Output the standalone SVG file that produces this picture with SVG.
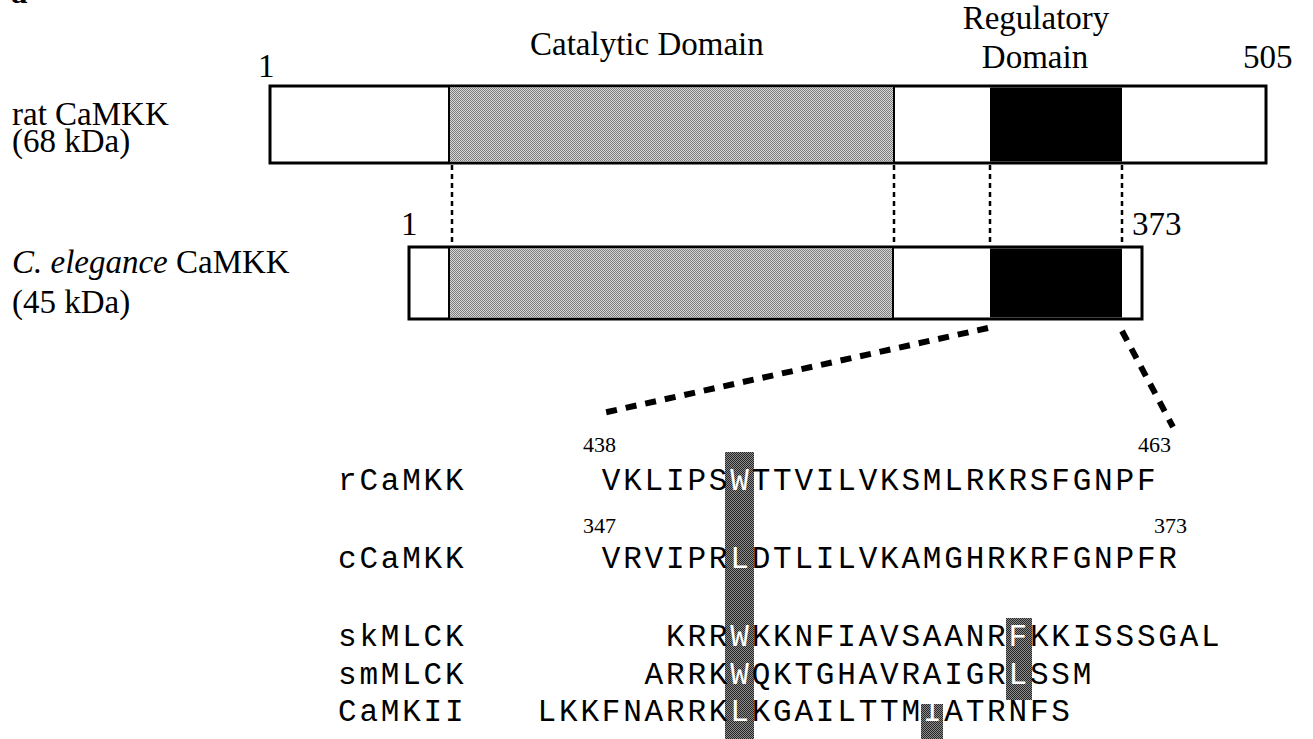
<svg xmlns="http://www.w3.org/2000/svg" width="1313" height="739" viewBox="0 0 1313 739">
  <defs>
    <!-- halftone fills -->
    <pattern id="ht-light" width="2" height="2" patternUnits="userSpaceOnUse">
      <rect width="2" height="2" fill="#d6d6d6"/>
      <rect width="1" height="1" fill="#7e7e7e"/>
      <rect x="1" y="1" width="1" height="1" fill="#7e7e7e"/>
    </pattern>
    <pattern id="ht-dark" width="2" height="2" patternUnits="userSpaceOnUse">
      <rect width="2" height="2" fill="#8c8c8c"/>
      <rect width="1" height="1" fill="#262626"/>
      <rect x="1" y="1" width="1" height="1" fill="#262626"/>
    </pattern>
    <style>
      .serif { font-family: "Liberation Serif", "Times New Roman", serif; fill: #000; }
      .lbl { font-size: 33px; }
      .num { font-size: 22px; }
      .mono { font-family: "Liberation Mono", "Courier New", monospace; font-size: 31px; letter-spacing: 2.8px; fill: #000; }
      .hi { fill: #fff; }
      .frame { fill: #fff; stroke: #000; stroke-width: 3; }
      .div { stroke: #000; stroke-width: 2; }
      .thin-dash { stroke: #000; stroke-width: 2.5; stroke-dasharray: 5 4; fill: none; }
      .thick-dash { stroke: #000; stroke-width: 6; stroke-dasharray: 11 9; fill: none; }
      .mark { fill: url(#ht-dark); }
    </style>
  </defs>

  <rect width="1313" height="739" fill="#fff"/>

  <!-- panel letter, mostly clipped at the top edge -->
  <text class="serif lbl" x="11" y="3" font-weight="bold">a</text>

  <!-- domain headings -->
  <g id="headings">
    <text class="serif lbl" x="530" y="55">Catalytic Domain</text>
    <text class="serif lbl" x="1036" y="29" text-anchor="middle">Regulatory</text>
    <text class="serif lbl" x="1035" y="68" text-anchor="middle">Domain</text>
  </g>

  <!-- rat CaMKK, residues 1-505 -->
  <g id="rat-camkk">
    <text class="serif lbl" x="12" y="125">rat CaMKK</text>
    <text class="serif lbl" x="12" y="152">(68 kDa)</text>
    <text class="serif lbl" x="258" y="77">1</text>
    <text class="serif lbl" x="1243" y="68">505</text>
    <rect class="frame" x="270" y="86" width="996" height="77"/>
    <rect x="449" y="87.5" width="445" height="74" fill="url(#ht-light)"/>
    <rect x="990" y="87.5" width="132" height="74" fill="#000"/>
    <line class="div" x1="449" y1="86" x2="449" y2="163"/>
    <line class="div" x1="894" y1="86" x2="894" y2="163"/>
  </g>

  <!-- C. elegans CaMKK, residues 1-373 -->
  <g id="ce-camkk">
    <text class="serif lbl" x="12" y="273"><tspan font-style="italic">C. elegance</tspan> CaMKK</text>
    <text class="serif lbl" x="12" y="313">(45 kDa)</text>
    <text class="serif lbl" x="401" y="235">1</text>
    <text class="serif lbl" x="1132" y="235">373</text>
    <rect class="frame" x="409" y="247" width="733" height="72"/>
    <rect x="449" y="248.5" width="444" height="69" fill="url(#ht-light)"/>
    <rect x="990" y="248.5" width="132" height="69" fill="#000"/>
    <line class="div" x1="449" y1="247" x2="449" y2="319"/>
    <line class="div" x1="893" y1="247" x2="893" y2="319"/>
  </g>

  <!-- domain correspondence and zoom-out lines -->
  <g id="connectors">
    <line class="thin-dash" x1="452" y1="165" x2="452" y2="246"/>
    <line class="thin-dash" x1="894" y1="165" x2="894" y2="246"/>
    <line class="thin-dash" x1="990" y1="165" x2="990" y2="246"/>
    <line class="thin-dash" x1="1122" y1="165" x2="1122" y2="246"/>
    <line class="thick-dash" x1="988" y1="328" x2="598" y2="414"/>
    <line class="thick-dash" x1="1122" y1="331" x2="1173" y2="427"/>
  </g>

  <!-- shaded columns behind the conserved hydrophobic anchors -->
  <g id="anchors">
    <rect class="mark" x="725" y="452" width="29" height="287"/>
    <rect class="mark" x="1006" y="618" width="26" height="82"/>
    <rect class="mark" x="921" y="704" width="22" height="35"/>
  </g>

  <!-- sequence alignment of the CaM-binding regions -->
  <g id="alignment">
    <text class="mono" x="338" y="490">rCaMKK</text>
    <text class="mono" x="338" y="568">cCaMKK</text>
    <text class="mono" x="338" y="646">skMLCK</text>
    <text class="mono" x="338" y="684">smMLCK</text>
    <text class="mono" x="338" y="721">CaMKII</text>

    <text class="serif num" x="583" y="452">438</text>
    <text class="serif num" x="1138" y="452">463</text>
    <text class="serif num" x="583" y="533">347</text>
    <text class="serif num" x="1154" y="533">373</text>

    <text class="mono" x="601.8" y="490">VKLIPS<tspan class="hi">W</tspan>TTVILVKSMLRKRSFGNPF</text>
    <text class="mono" x="601.8" y="568">VRVIPR<tspan class="hi">L</tspan>DTLILVKAMGHRKRFGNPFR</text>
    <text class="mono" x="666" y="646">KRR<tspan class="hi">W</tspan>KKNFIAVSAANR<tspan class="hi">F</tspan>KKISSSGAL</text>
    <text class="mono" x="644.6" y="684">ARRK<tspan class="hi">W</tspan>QKTGHAVRAIGR<tspan class="hi">L</tspan>SSM</text>
    <text class="mono" x="537.6" y="721">LKKFNARRK<tspan class="hi">L</tspan>KGAILTTM<tspan class="hi">I</tspan>ATRNFS</text>
  </g>
</svg>
